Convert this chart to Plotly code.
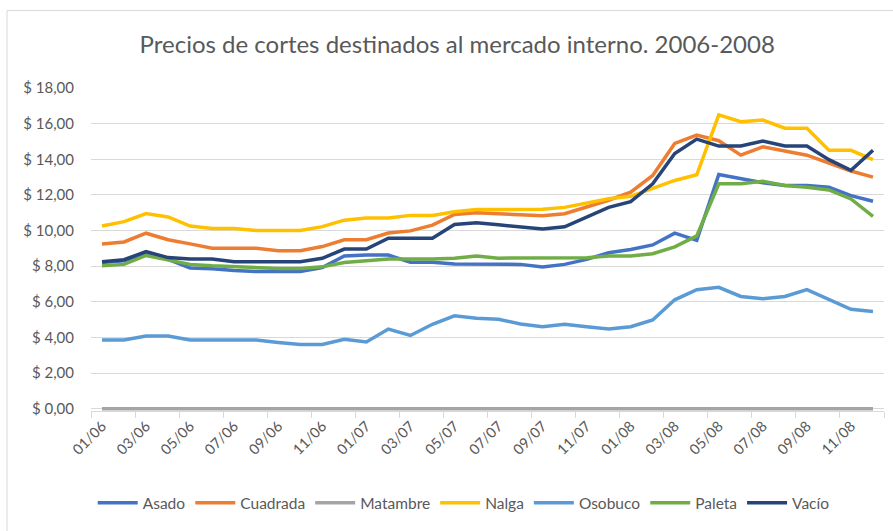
import plotly.graph_objects as go

months = ["01/06","02/06","03/06","04/06","05/06","06/06","07/06","08/06","09/06","10/06","11/06","12/06",
          "01/07","02/07","03/07","04/07","05/07","06/07","07/07","08/07","09/07","10/07","11/07","12/07",
          "01/08","02/08","03/08","04/08","05/08","06/08","07/08","08/08","09/08","10/08","11/08","12/08"]

asado = [8.20, 8.30, 8.66, 8.38, 7.90, 7.85, 7.75, 7.70, 7.70, 7.70, 7.92, 8.57,
         8.62, 8.62, 8.22, 8.22, 8.12, 8.10, 8.10, 8.10, 7.96, 8.10, 8.38, 8.75,
         8.94, 9.19, 9.85, 9.45, 13.15, 12.91, 12.68, 12.53, 12.53, 12.43, 11.96, 11.64]
cuadrada = [9.25, 9.36, 9.85, 9.48, 9.25, 9.00, 9.00, 9.00, 8.86, 8.86, 9.10, 9.48,
            9.48, 9.86, 9.98, 10.30, 10.90, 11.00, 10.94, 10.87, 10.83, 10.94, 11.30, 11.70,
            12.15, 13.09, 14.89, 15.36, 15.04, 14.23, 14.70, 14.47, 14.23, 13.79, 13.34, 13.00]
matambre = [0.0] * 36
nalga = [10.25, 10.50, 10.95, 10.76, 10.25, 10.12, 10.12, 10.00, 10.00, 10.00, 10.22, 10.58,
         10.70, 10.70, 10.85, 10.85, 11.05, 11.18, 11.18, 11.18, 11.20, 11.30, 11.55, 11.78,
         11.92, 12.34, 12.81, 13.13, 16.49, 16.11, 16.20, 15.74, 15.74, 14.50, 14.50, 13.98]
osobuco = [3.85, 3.85, 4.08, 4.08, 3.85, 3.85, 3.85, 3.85, 3.72, 3.60, 3.60, 3.89,
           3.74, 4.47, 4.11, 4.74, 5.21, 5.08, 5.02, 4.75, 4.60, 4.74, 4.60, 4.47,
           4.60, 4.98, 6.11, 6.68, 6.81, 6.30, 6.17, 6.30, 6.68, 6.15, 5.58, 5.45]
paleta = [8.02, 8.10, 8.60, 8.36, 8.10, 8.02, 7.96, 7.92, 7.87, 7.87, 7.96, 8.20,
          8.32, 8.40, 8.40, 8.40, 8.45, 8.57, 8.45, 8.45, 8.45, 8.45, 8.47, 8.57,
          8.57, 8.70, 9.08, 9.70, 12.62, 12.62, 12.77, 12.53, 12.43, 12.28, 11.77, 10.79]
vacio = [8.25, 8.36, 8.82, 8.48, 8.40, 8.40, 8.25, 8.25, 8.25, 8.25, 8.44, 8.96,
         8.96, 9.57, 9.57, 9.57, 10.34, 10.44, 10.32, 10.21, 10.08, 10.21, 10.74, 11.30,
         11.62, 12.62, 14.32, 15.13, 14.74, 14.74, 15.02, 14.74, 14.74, 13.98, 13.38, 14.51]

series = [("Asado", asado, "#4472C4"), ("Cuadrada", cuadrada, "#ED7D31"),
          ("Matambre", matambre, "#A5A5A5"), ("Nalga", nalga, "#FFC000"),
          ("Osobuco", osobuco, "#5B9BD5"), ("Paleta", paleta, "#70AD47"),
          ("Vacío", vacio, "#264478")]

ytick_vals = [0, 2, 4, 6, 8, 10, 12, 14, 16, 18]
ytick_text = ["$ 0,00", "$ 2,00", "$ 4,00", "$ 6,00", "$ 8,00", "$ 10,00",
              "$ 12,00", "$ 14,00", "$ 16,00", "$ 18,00"]

fig = go.Figure()
for name, vals, color in series:
    fig.add_trace(go.Scatter(x=months, y=vals, name=name, mode="lines",
                             line=dict(color=color, width=3.5)))

# plot area: x 91..884, y 88 (18) .. 409 (0); y range extended slightly below 0
ymin = -0.13
fig.update_layout(
    width=893, height=531,
    paper_bgcolor="white", plot_bgcolor="white",
    margin=dict(l=91, r=9, t=88, b=122 - round(-ymin * 321 / 18)),
    font=dict(family="Lato", color="#595959"),
    title=dict(text="Precios de cortes destinados al mercado interno. 2006-2008",
               x=0.512, xanchor="center", y=1 - 45 / 531, yanchor="middle",
               font=dict(size=24, color="#595959", family="Lato")),
    legend=dict(orientation="h", x=0.47, xanchor="center", y=-0.285, yanchor="middle",
                font=dict(size=15.5, color="#595959"), itemwidth=40, tracegroupgap=0),
    showlegend=True,
)
fig.update_xaxes(type="category", tickson="boundaries", dtick=2, tick0=0,
                 tickangle=-45, ticks="outside", ticklen=6, tickcolor="#d9d9d9",
                 showgrid=False, showline=True, linecolor="#d9d9d9",
                 tickfont=dict(size=14.5, color="#595959"), range=[-0.5, 35.5])
fig.update_yaxes(range=[ymin, 18], tickvals=ytick_vals, ticktext=ytick_text,
                 showgrid=True, gridcolor="#d9d9d9", gridwidth=1, zeroline=False,
                 showline=False, ticks="", ticklabelstandoff=16,
                 tickfont=dict(size=15, color="#595959"))

fig.add_shape(type="rect", xref="paper", yref="paper",
              x0=(7 - 91) / 793, x1=(900 - 91) / 793,
              y0=-0.45, y1=1.24,
              line=dict(color="#d9d9d9", width=1), fillcolor="rgba(0,0,0,0)", layer="below")

fig.write_html("out.html", config={"displayModeBar": False},
               post_script="document.body.style.margin='0px';")
